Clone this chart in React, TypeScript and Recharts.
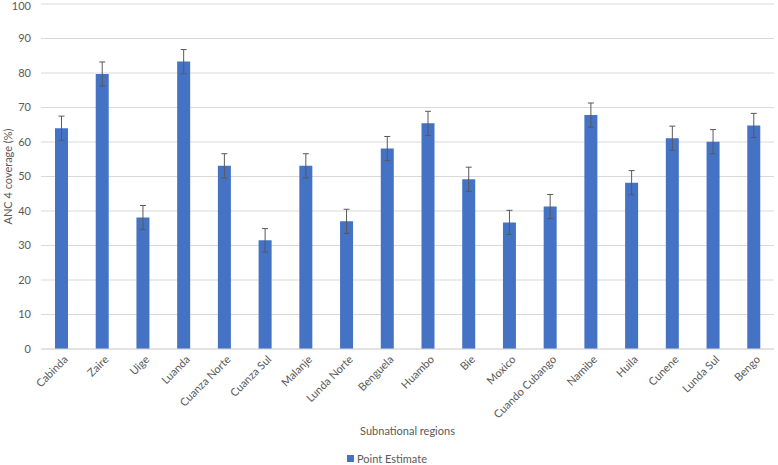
import React from 'react';
import { BarChart, Bar, XAxis, YAxis, CartesianGrid, Legend, ErrorBar } from 'recharts';

const regions = [
  'Cabinda', 'Zaire', 'Uige', 'Luanda', 'Cuanza Norte', 'Cuanza Sul', 'Malanje', 'Lunda Norte', 'Benguela',
  'Huambo', 'Bie', 'Moxico', 'Cuando Cubango', 'Namibe', 'Huila', 'Cunene', 'Lunda Sul', 'Bengo',
];
const pointEstimate = [64.0, 79.7, 38.1, 83.3, 53.1, 31.5, 53.1, 37.0, 58.1, 65.4, 49.2, 36.7, 41.3, 67.8, 48.2, 61.1, 60.1, 64.8];
const errorMargin = [3.5, 3.5, 3.5, 3.5, 3.5, 3.4, 3.5, 3.5, 3.5, 3.5, 3.5, 3.5, 3.5, 3.5, 3.5, 3.5, 3.5, 3.5];
const yTicks = [0, 10, 20, 30, 40, 50, 60, 70, 80, 90, 100];

const data = regions.map((name, i) => ({ name, value: pointEstimate[i], err: errorMargin[i] }));

const FONT = 'Lato, "Open Sans", sans-serif';
const TEXT = '#595959';

// rotated category labels, right end sits under the bar
const RegionTick = (props: any) => {
  const { x, y, payload } = props;
  return (
    <g transform={`translate(${x + 4},${y + 8})`}>
      <text textAnchor="end" transform="rotate(-45)" fontSize={11} fontFamily={FONT} fill={TEXT} dominantBaseline="central">
        {payload.value}
      </text>
    </g>
  );
};

const LegendBox = () => (
  <div style={{ height: 20, paddingTop: 5, lineHeight: '13px', textAlign: 'center', fontFamily: FONT, fontSize: 11, color: TEXT, boxSizing: 'border-box' }}>
    <span style={{ display: 'inline-block', width: 7, height: 7, background: '#4472C4', marginRight: 3, verticalAlign: 'middle' }} />
    <span style={{ verticalAlign: 'middle' }}>Point Estimate</span>
  </div>
);

const App = () => {
  return (
    <div style={{ position: 'absolute', left: 0, top: 0, width: 778, height: 465, background: '#fff' }}>
      <BarChart width={778} height={465} data={data} margin={{ top: 4, right: 4, left: 0, bottom: 0 }} barCategoryGap={0}>
        <CartesianGrid vertical={false} stroke="#D9D9D9" />
        <XAxis
          dataKey="name"
          interval={0}
          height={96}
          tickLine={false}
          tickSize={0}
          tickMargin={0}
          stroke="#D9D9D9"
          tick={<RegionTick />}
          label={{
            content: (p: any) => {
              const vb = p.viewBox;
              return (
                <text x={vb.x + vb.width / 2} y={vb.y + 81} textAnchor="middle" dominantBaseline="central" fontSize={11} fontFamily={FONT} fill={TEXT}>
                  Subnational regions
                </text>
              );
            },
          }}
        />
        <YAxis
          width={41}
          domain={[0, 100]}
          ticks={yTicks}
          axisLine={false}
          tickLine={false}
          tickSize={0}
          tickMargin={10}
          tick={{ fontSize: 11, fontFamily: FONT, fill: TEXT }}
          label={{
            content: (p: any) => {
              const vb = p.viewBox;
              const cy = vb.y + vb.height / 2;
              return (
                <text x={7} y={cy} transform={`rotate(-90, 7, ${cy})`} textAnchor="middle" dominantBaseline="central" fontSize={11} fontFamily={FONT} fill={TEXT}>
                  ANC 4 coverage (%)
                </text>
              );
            },
          }}
        />
        <Legend verticalAlign="bottom" height={20} content={<LegendBox />} />
        <Bar dataKey="value" name="Point Estimate" fill="#4472C4" barSize={13} isAnimationActive={false}>
          <ErrorBar dataKey="err" width={3} stroke="#595959" strokeWidth={1} />
        </Bar>
      </BarChart>
    </div>
  );
};

export default App;
